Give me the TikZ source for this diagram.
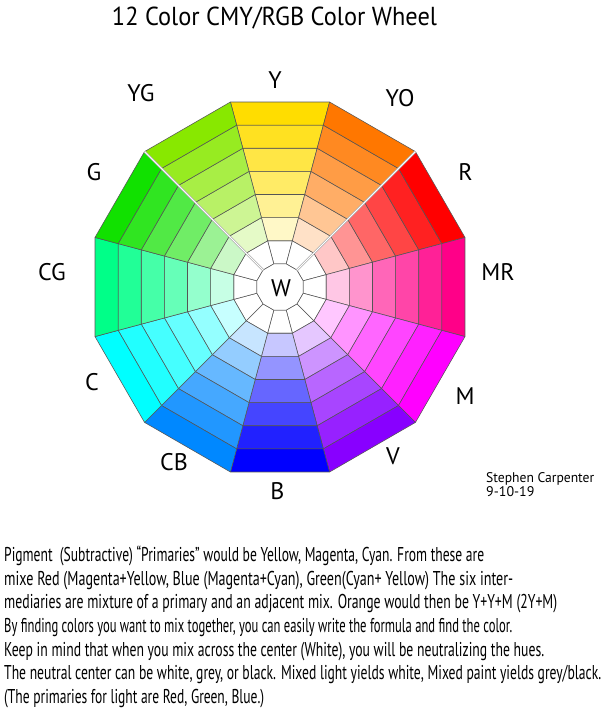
\documentclass[tikz,border=0pt]{standalone}
\usepackage{fontspec}
\setmainfont{PT Sans}
\usepackage{graphicx}
\definecolor{cY}{RGB}{255,221,0}
\definecolor{cYO}{RGB}{255,119,0}
\definecolor{cR}{RGB}{255,0,0}
\definecolor{cMR}{RGB}{255,0,136}
\definecolor{cM}{RGB}{255,0,255}
\definecolor{cV}{RGB}{136,0,255}
\definecolor{cB}{RGB}{0,0,255}
\definecolor{cCB}{RGB}{0,136,255}
\definecolor{cC}{RGB}{0,255,255}
\definecolor{cCG}{RGB}{0,255,136}
\definecolor{cG}{RGB}{17,225,0}
\definecolor{cYG}{RGB}{136,232,0}
\definecolor{edge}{RGB}{85,85,85}
\begin{document}
\begin{tikzpicture}[x=1pt,y=-1pt,
  cell/.style={draw=edge,line width=0.55pt,line join=round},
  hue/.style={font=\fontsize{24}{28}\selectfont, anchor=base, inner sep=0pt},
  body/.style={font=\fontsize{20}{24}\selectfont, anchor=base west, inner sep=0pt},
  sig/.style={font=\fontsize{14}{16}\selectfont, anchor=base west, inner sep=0pt}]
\fill[white] (0,0) rectangle (602,718);
\useasboundingbox (0,0) rectangle (602,718);
\begin{scope}[shift={(280,287)},yscale=-1]
  \def\ap{23.125}
  \foreach \c [count=\j from 0] in {cY,cYO,cR,cMR,cM,cV,cB,cCB,cC,cCG,cG,cYG} {
    \pgfmathsetmacro\ang{90-30*\j}
    \foreach \k/\p in {2/0,3/22,4/42,5/60,6/73,7/87,8/100} {
      \pgfmathsetmacro\ri{(\k-1)*\ap/cos(15)}
      \pgfmathsetmacro\ro{\k*\ap/cos(15)}
      \filldraw[cell, fill=\c!\p!white] (\ang-15:\ri) -- (\ang+15:\ri) -- (\ang+15:\ro) -- (\ang-15:\ro) -- cycle;
    }
  }
  \def\rA{23.94}
  \def\rH{191.53}
  \filldraw[cell, fill=white] (15:\rA) \foreach \a in {45,75,...,345}{ -- (\a:\rA)} -- cycle;
  \foreach \a in {45,135} {
    \draw[gray!65, line width=2.2pt] (\a:\rA) -- (\a:\rH);
    \draw[white, line width=1.0pt] (\a:\rA) -- (\a:\rH);
  }
\end{scope}
\node[hue] (w) at (281,296.7) {W};
\node[hue] (lY) at (275,88.3) {Y};
\node[hue] (lYO) at (400,106) {YO};
\node[hue] (lR) at (465.5,180) {R};
\node[hue] (lMR) at (498,280) {MR};
\node[hue] (lM) at (465,404) {M};
\node[hue] (lV) at (393,464) {V};
\node[hue] (lB) at (277.5,499.3) {B};
\node[hue] (lCB) at (174,470) {CB};
\node[hue] (lC) at (92,390) {C};
\node[hue] (lCG) at (52,280) {CG};
\node[hue] (lG) at (94,180) {G};
\node[hue] (lYG) at (141,101) {YG};
\node[anchor=base, inner sep=0pt, font=\fontsize{26}{30}\selectfont] (title) at (274.5,25) {\resizebox{325pt}{\height}{12 Color CMY/RGB Color Wheel}};
\node[sig] (s1) at (486,482.7) {\resizebox{108pt}{\height}{Stephen Carpenter}};
\node[sig] (s2) at (486,496) {9-10-19};
\node[body] (t1) at (4,561.5) {\resizebox{480pt}{\height}{Pigment\ \ (Subtractive) “Primaries” would be Yellow, Magenta, Cyan. From these are}};
\node[body] (t2) at (4,585.2) {\resizebox{509pt}{\height}{mixe Red (Magenta+Yellow, Blue (Magenta+Cyan), Green(Cyan+ Yellow) The six inter-}};
\node[body] (t3) at (4,608.9) {\resizebox{553pt}{\height}{mediaries are mixture of a primary and an adjacent mix. Orange would then be Y+Y+M (2Y+M)}};
\node[body] (t4) at (4,632.5) {\resizebox{508pt}{\height}{By finding colors you want to mix together, you can easily write the formula and find the color.}};
\node[body] (t5) at (4,656.2) {\resizebox{540pt}{\height}{Keep in mind that when you mix across the center (White), you will be neutralizing the hues.}};
\node[body] (t6) at (4,679.9) {\resizebox{597pt}{\height}{The neutral center can be white, grey, or black. Mixed light yields white, Mixed paint yields grey/black.}};
\node[body] (t7) at (4,703.5) {\resizebox{260pt}{\height}{(The primaries for light are Red, Green, Blue.)}};
\end{tikzpicture}
\end{document}
